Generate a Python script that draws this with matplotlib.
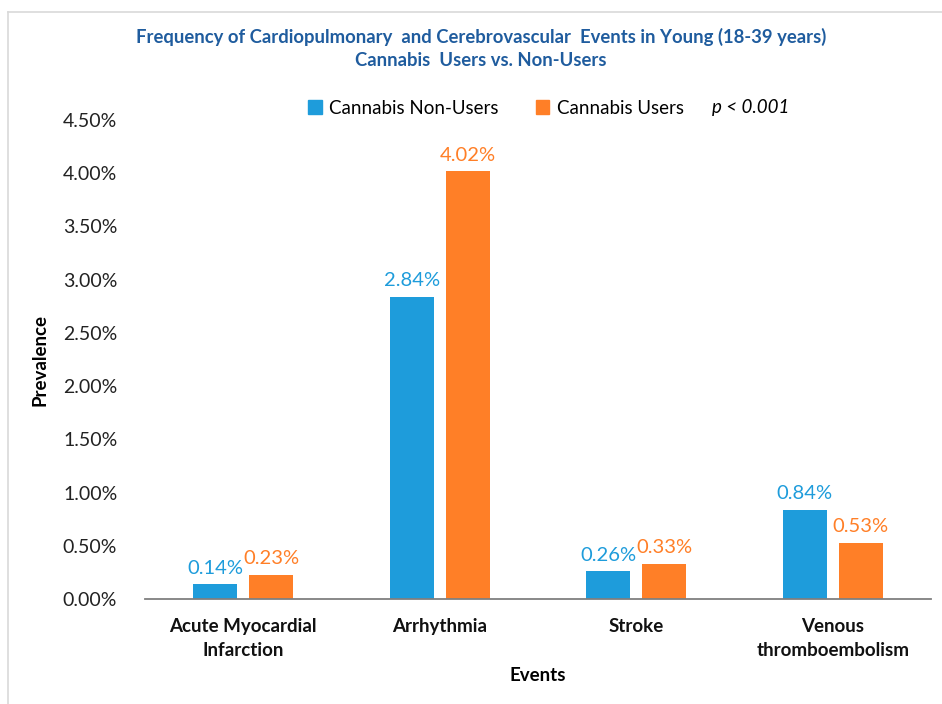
import numpy as np
import matplotlib.pyplot as plt
from matplotlib.lines import Line2D
from matplotlib.patches import Patch

# data
events = ['Acute Myocardial\nInfarction', 'Arrhythmia', 'Stroke', 'Venous\nthromboembolism']
non_users = [0.14, 2.84, 0.26, 0.84]
users = [0.23, 4.02, 0.33, 0.53]
yticks = [0, 0.5, 1.0, 1.5, 2.0, 2.5, 3.0, 3.5, 4.0, 4.5]

blue = '#1E9CDB'
orange = '#FF7F27'
title_col = '#1F5C9E'
font = 'Lato'

fig = plt.figure(figsize=(9.42, 7.04), dpi=100)
ax = fig.add_axes([145/942, 1 - 599/704, (931 - 145)/942, (599 - 120)/704])

# light grey frame around the whole chart
fig.add_artist(Line2D([8/942, 8/942], [0, 1 - 12/704], color='#D9D9D9', lw=1.2, transform=fig.transFigure))
fig.add_artist(Line2D([8/942, 1], [1 - 12/704, 1 - 12/704], color='#D9D9D9', lw=1.2, transform=fig.transFigure))

x = np.arange(len(events))
w = 0.224
off = 0.142
b1 = ax.bar(x - off, non_users, w, color=blue)
b2 = ax.bar(x + off, users, w, color=orange)

for rect, v in zip(b1, non_users):
    ax.text(rect.get_x() + rect.get_width()/2, v + 0.07, '%.2f%%' % v, ha='center', va='bottom',
            color=blue, fontsize=14.5, family=font)
for rect, v in zip(b2, users):
    ax.text(rect.get_x() + rect.get_width()/2, v + 0.07, '%.2f%%' % v, ha='center', va='bottom',
            color=orange, fontsize=14.5, family=font)

ax.set_xlim(-0.5, len(events) - 0.5)
ax.set_ylim(0, 4.5)
ax.set_yticks(yticks)
ax.set_yticklabels(['%.2f%%' % t for t in yticks], fontsize=14, family=font, color='#222222')
ax.set_xticks(x)
ax.set_xticklabels(events, fontsize=13.5, fontweight='bold', family=font, color='#111111', linespacing=1.45)
ax.tick_params(axis='y', length=0, pad=20)
ax.tick_params(axis='x', length=0, pad=14)

for s in ['left', 'right', 'top']:
    ax.spines[s].set_visible(False)
ax.spines['bottom'].set_color('#7F7F7F')
ax.spines['bottom'].set_linewidth(1.3)

ax.set_ylabel('Prevalence', fontsize=13.5, fontweight='bold', family=font, labelpad=10)
ax.set_xlabel('Events', fontsize=13.5, fontweight='bold', family=font, labelpad=6)

fig.text(481/942, 1 - 37/704, 'Frequency of Cardiopulmonary  and Cerebrovascular  Events in Young (18-39 years)',
         ha='center', va='center', fontsize=13.3, fontweight='bold', color=title_col, family=font)
fig.text(481/942, 1 - 61/704, 'Cannabis  Users vs. Non-Users', ha='center', va='center',
         fontsize=13.3, fontweight='bold', color=title_col, family=font)

handles = [Patch(color=blue, label='Cannabis Non-Users'), Patch(color=orange, label='Cannabis Users')]
leg = fig.legend(handles=handles, loc='center', bbox_to_anchor=(496/942, 1 - 108/704), ncol=2,
                 frameon=False, prop={'family': font, 'size': 13.5}, handlelength=0.7, handleheight=0.7,
                 handletextpad=0.4, columnspacing=2.0)
fig.text(712/942, 1 - 107/704, 'p < 0.001', ha='left', va='center', fontsize=13.5, style='italic', family=font)

fig.savefig('out.png', dpi=100)
